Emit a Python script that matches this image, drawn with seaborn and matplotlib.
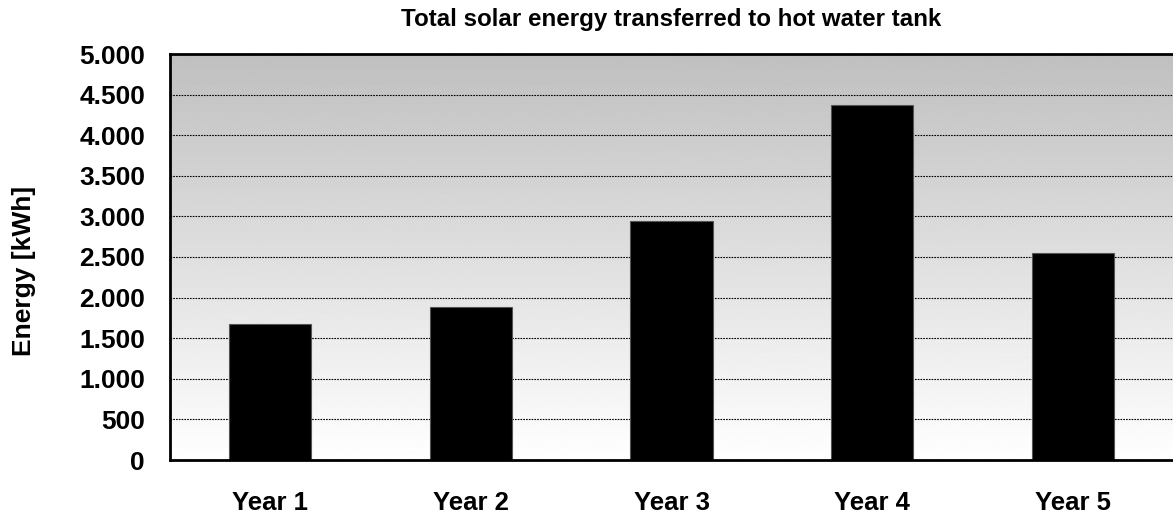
import numpy as np
import pandas as pd
import matplotlib
matplotlib.use("Agg")
import matplotlib.pyplot as plt
import matplotlib.ticker as mticker
import seaborn as sns

# Data
years = ["Year 1", "Year 2", "Year 3", "Year 4", "Year 5"]
energy = [1675, 1885, 2945, 4370, 2550]

df = pd.DataFrame({"year": years, "energy": energy})

sns.set_style("white")
plt.rcParams["font.family"] = ["Liberation Sans", "DejaVu Sans"]
plt.rcParams["font.weight"] = "bold"
plt.rcParams["text.color"] = "black"
plt.rcParams["xtick.color"] = "black"
plt.rcParams["ytick.color"] = "black"
plt.rcParams["axes.labelcolor"] = "black"

fig = plt.figure(figsize=(11.73, 5.15), dpi=100)
ax = fig.add_axes([170 / 1173, 1 - 460 / 515, 1 - 170 / 1173, (460 - 54) / 515])

# gradient background, gray on top fading to white
grad = np.linspace(0.75, 1.0, 256).reshape(-1, 1)
ax.imshow(grad, cmap="gray", vmin=0, vmax=1, extent=[0, 1, 0, 1], origin="upper",
          transform=ax.transAxes, aspect="auto", zorder=0)

sns.barplot(data=df, x="year", y="energy", color="black", width=0.41,
            saturation=1, edgecolor="#555555", linewidth=0.8, ax=ax, zorder=3)

ax.set_xlim(-0.5, 4.5)
ax.set_ylim(0, 5000)
ax.yaxis.set_major_locator(mticker.MultipleLocator(500))
ax.yaxis.set_major_formatter(mticker.FuncFormatter(lambda v, p: f"{int(v):,}".replace(",", ".")))
ax.grid(axis="y", color="black", linestyle=(0, (1.5, 1)), linewidth=0.8)
for gl in ax.get_ygridlines():
    gl.set_zorder(1)

# category boundary ticks, labels at centers
ax.set_xticks(np.arange(-0.5, 5, 1))
ax.set_xticklabels([])
ax.set_xticks(np.arange(5), minor=True)
ax.set_xticklabels(years, minor=True, fontsize=18.5, fontweight="bold")
ax.tick_params(axis="x", which="major", direction="out", length=6, width=1.2, color="black")
ax.tick_params(axis="x", which="minor", length=0, pad=22)
ax.tick_params(axis="y", direction="out", length=8, width=1.2, color="black", labelsize=19, pad=10)
for lab in ax.get_yticklabels():
    lab.set_fontweight("bold")

for s in ["left", "bottom", "top"]:
    ax.spines[s].set_color("black")
    ax.spines[s].set_linewidth(2)
    ax.spines[s].set_zorder(5)
ax.spines["right"].set_visible(False)

ax.set_xlabel("")
ax.set_ylabel("Energy [kWh]", fontsize=19, fontweight="bold")
ax.yaxis.set_label_coords(-0.134, 0.465)
ax.set_title("Total solar energy transferred to hot water tank", fontsize=17.4,
             fontweight="bold", pad=20)

fig.savefig("out.png", dpi=100)
